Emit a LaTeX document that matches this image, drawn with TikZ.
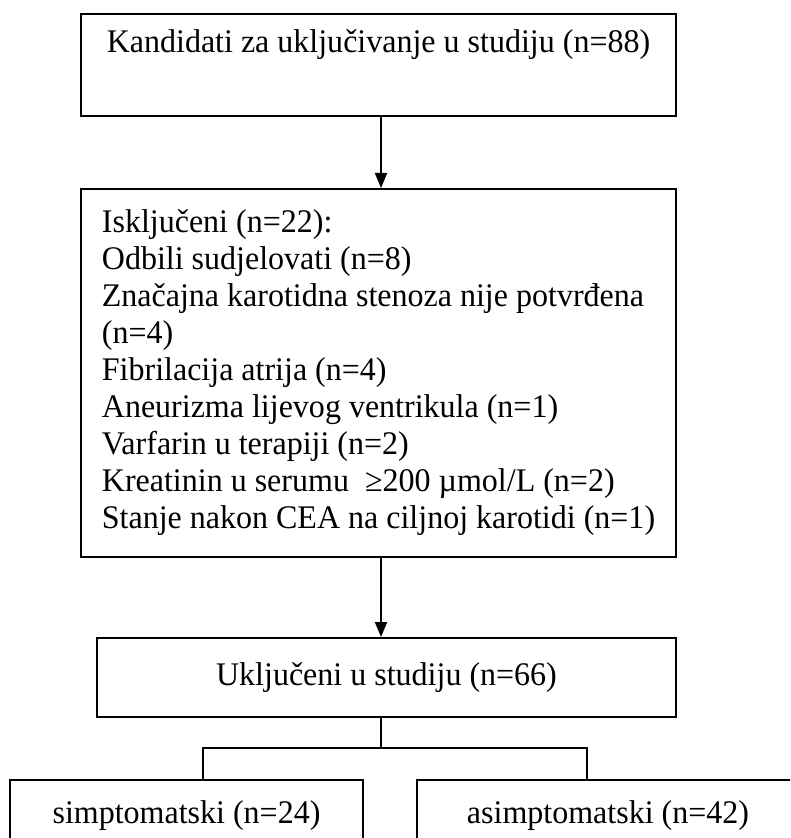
\documentclass[tikz,border=0pt]{standalone}
\usepackage{fontspec}
\setmainfont{Liberation Serif}[FakeStretch=0.97]
\usetikzlibrary{arrows.meta}

\begin{document}
\begin{tikzpicture}[x=0.5pt,y=-0.5pt,line width=1pt,
  kutija/.style={draw,rectangle,inner sep=0pt,font=\fontsize{16.5pt}{18.5pt}\selectfont},
  strelica/.style={-{Triangle[width=6pt,length=7.5pt]}}]
\useasboundingbox (0,0) rectangle (790,838);
\clip (0,0) rectangle (790,838);

\node[kutija,minimum width=297.5pt,minimum height=51pt,align=center] (kand) at (378.5,65)
  {Kandidati za uključivanje u studiju (n=88)\\\strut};

\node[kutija,minimum width=297.5pt,minimum height=184pt,align=left] (iskl) at (378.5,373)
  {Isključeni (n=22):\\
   Odbili sudjelovati (n=8)\\
   Značajna karotidna stenoza nije potvrđena\\
   (n=4)\\
   Fibrilacija atrija (n=4)\\
   Aneurizma lijevog ventrikula (n=1)\\
   Varfarin u terapiji (n=2)\\
   Kreatinin u serumu \ ≥200 µmol/L (n=2)\\
   Stanje nakon CEA na ciljnoj karotidi (n=1)};

\node[kutija,minimum width=289.5pt,minimum height=39.5pt] (uklj) at (386.5,677.5)
  {Uključeni u studiju (n=66)};

\node[kutija,minimum width=176.5pt,minimum height=36pt] (sim) at (186.5,816)
  {simptomatski (n=24)};
\node[kutija,minimum width=191pt,minimum height=36pt] (asim) at (608,816)
  {asimptomatski (n=42)};

\coordinate (razd) at (381,748);
\coordinate (lijevo) at (203,748);
\coordinate (desno) at (587,748);

\draw[strelica] (razd |- kand.south) -- (razd |- iskl.north);
\draw[strelica] (razd |- iskl.south) -- (razd |- uklj.north);
\draw (razd |- uklj.south) -- (razd);
\draw (lijevo |- sim.north) -- (lijevo) -- (desno) -- (desno |- asim.north);
\end{tikzpicture}
\end{document}
